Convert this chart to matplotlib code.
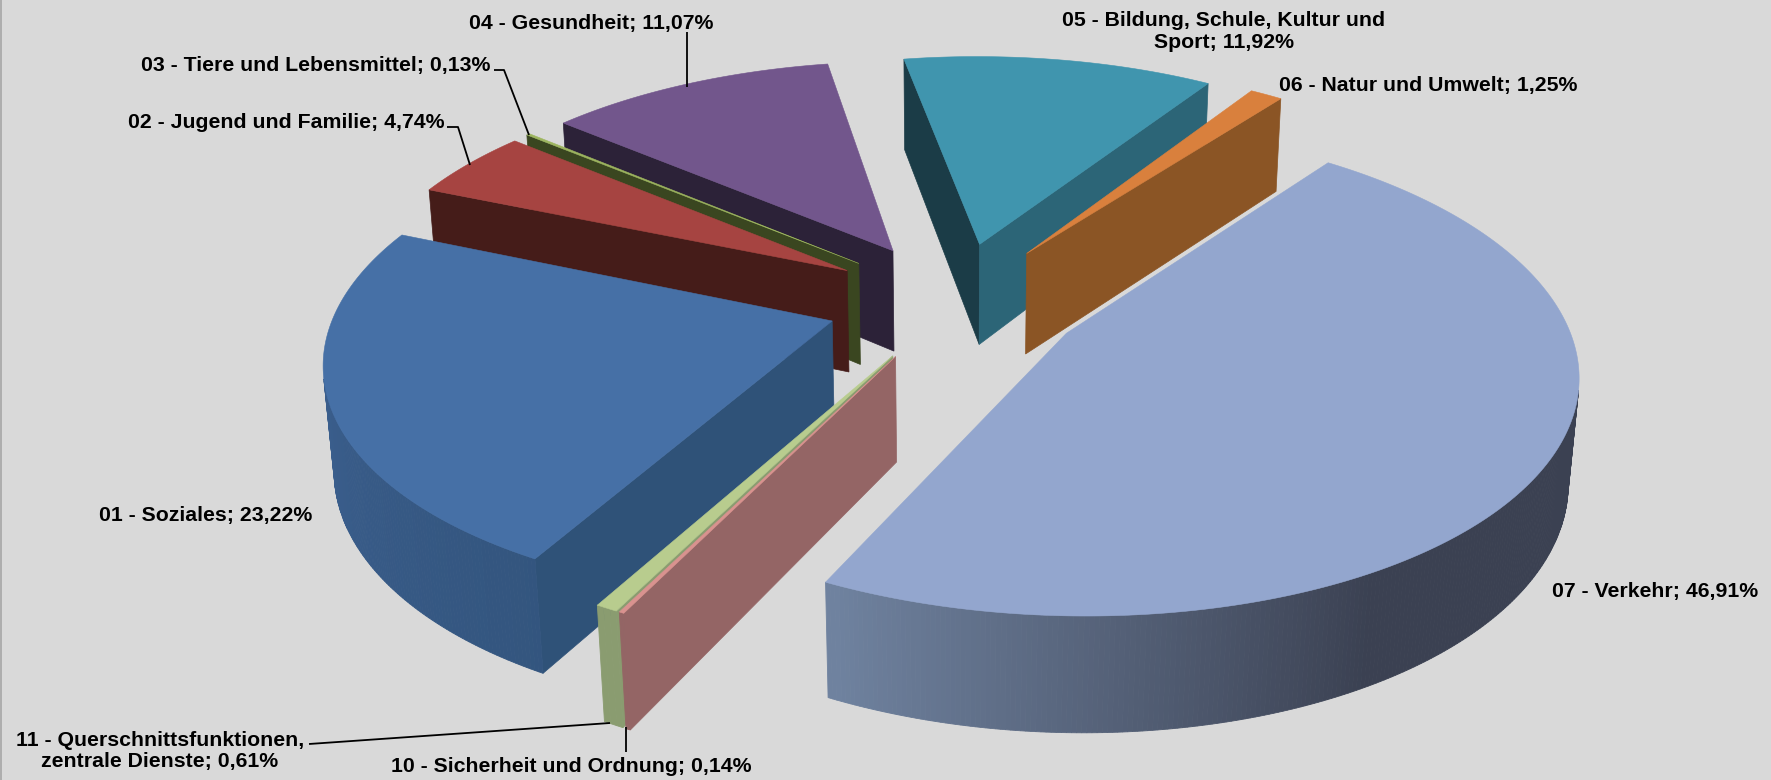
import numpy as np
import matplotlib
matplotlib.use('agg')
import matplotlib.pyplot as plt
from matplotlib.colors import to_rgb

# Haushalt shares, clockwise
names = ['01 - Soziales', '02 - Jugend und Familie', '03 - Tiere und Lebensmittel',
         '04 - Gesundheit', '05 - Bildung, Schule, Kultur und\nSport', '06 - Natur und Umwelt',
         '07 - Verkehr', '10 - Sicherheit und Ordnung', '11 - Querschnittsfunktionen,\nzentrale Dienste']
values = [23.22, 4.74, 0.13, 11.07, 11.92, 1.25, 46.91, 0.14, 0.61]

top_colors = ['#4670A6', '#A64441', '#9DB55F', '#72568C', '#4095AE',
              '#D9803D', '#93A6CE', '#D9928F', '#B8CC8E']
start_face = ['#2F5278', '#451C19', '#3A4620', '#2C2238', '#1B3C47',
              '#8B5525', '#3B4152', '#946565', '#8A9C70']
end_face = ['#2F5278', '#451C19', '#3A4620', '#2C2238', '#2C6577',
            '#8B5525', '#3B4152', '#946565', '#8A9C70']
# arc shading: colour at angle a0 and a1 (degrees clockwise from up)
arc_shade = [('#33557E', '#3C6090', 207, 270), ('#451C19', '#451C19', 0, 360),
             ('#3A4620', '#3A4620', 0, 360), ('#2C2238', '#2C2238', 0, 360),
             ('#2C6577', '#2C6577', 0, 360), ('#8B5525', '#8B5525', 0, 360),
             ('#3B4152', '#6F829F', 150, 205), ('#946565', '#946565', 0, 360),
             ('#8A9C70', '#8A9C70', 0, 360)]
draw_order = [3, 2, 1, 0, 8, 7, 4, 5, 6]

# label anchors and leader lines, pixels
label_pos = [(206, 515), (286, 123), (316, 66), (591, 23), (1224, 32),
             (1428, 85), (1655, 591), (571, 766), (160, 751)]
leaders = [[(687, 32), (687, 87)],
           [(494, 70), (504, 70), (529, 135)],
           [(447, 127), (458, 127), (470, 165)],
           [(309, 744), (610, 723)],
           [(626, 727), (626, 752)]]

# pie camera
start_angle = 209.0
explode = 0.26
cx, cy = 955, 301
fx, fy = 494, 230.7
persp = 0.147
drop = 104.6
drop_w = 0.017


def project(X, Y, z):
    w = 1 - persp * Y + drop_w * z
    return cx + fx * X / w, cy + (fy * Y + drop * z) / w


def shoelace(px, py):
    return np.sum(px * np.roll(py, -1) - np.roll(px, -1) * py)


def mix(c0, c1, t):
    c0, c1 = np.array(to_rgb(c0)), np.array(to_rgb(c1))
    return tuple(c0 + (c1 - c0) * t)


fig = plt.figure(figsize=(17.71, 7.8), dpi=100, facecolor='#D9D9D9')
ax = fig.add_axes([0, 0, 1, 1])
ax.set_xlim(0, 1771)
ax.set_ylim(780, 0)
ax.axis('off')

total = sum(values)
edges = start_angle + np.concatenate([[0], np.cumsum(values)]) / total * 360

for i in draw_order:
    a0, a1 = edges[i], edges[i + 1]
    mid = np.radians((a0 + a1) / 2)
    ox, oy = explode * np.sin(mid), -explode * np.cos(mid)
    th = np.radians(np.linspace(a0, a1, max(4, int((a1 - a0) * 2))))
    rx, ry = ox + np.sin(th), oy - np.cos(th)
    tx, ty = project(rx, ry, 0)
    bx, by = project(rx, ry, 1)
    ax_t, ay_t = project(ox, oy, 0)
    ax_b, ay_b = project(ox, oy, 1)
    mx, my = tx[len(tx) // 2], ty[len(ty) // 2]

    # straight faces, only when they look at the camera
    for k, col in ((0, start_face[i]), (-1, end_face[i])):
        ex, ey = tx[k] - ax_t, ty[k] - ay_t
        s_mid = ex * (my - ay_t) - ey * (mx - ax_t)
        s_low = ex * (by[k] - ay_t) - ey * (bx[k] - ax_t)
        if s_mid * s_low < 0:
            ax.fill([ax_t, tx[k], bx[k], ax_b], [ay_t, ty[k], by[k], ay_b],
                    color=col, lw=0.5)

    # round face in small strips
    c0, c1, s0, s1 = arc_shade[i]
    for j in range(len(th) - 1):
        px = np.array([tx[j], tx[j + 1], bx[j + 1], bx[j]])
        py = np.array([ty[j], ty[j + 1], by[j + 1], by[j]])
        if shoelace(px, py) < 0:
            deg = np.degrees(th[j]) % 360
            t = np.clip((deg - s0) / (s1 - s0), 0, 1)
            ax.fill(px, py, color=mix(c0, c1, t), lw=0.6)

    ax.fill(np.r_[ax_t, tx], np.r_[ay_t, ty], color=top_colors[i], lw=0.4)

for line in leaders:
    ax.plot([p[0] for p in line], [p[1] for p in line], color='black', lw=1.3,
            solid_capstyle='butt')

for name, val, pos in zip(names, values, label_pos):
    txt = name + '; ' + f'{val:.2f}'.replace('.', ',') + '%'
    ax.text(pos[0], pos[1], txt, ha='center', va='center', family='Liberation Sans',
            fontweight='bold', fontsize=15.3, color='black', linespacing=1.2)

ax.plot([0.5, 0.5], [0, 780], color='#A6A6A6', lw=1.2)

fig.savefig('out.png', dpi=100, facecolor=fig.get_facecolor())
